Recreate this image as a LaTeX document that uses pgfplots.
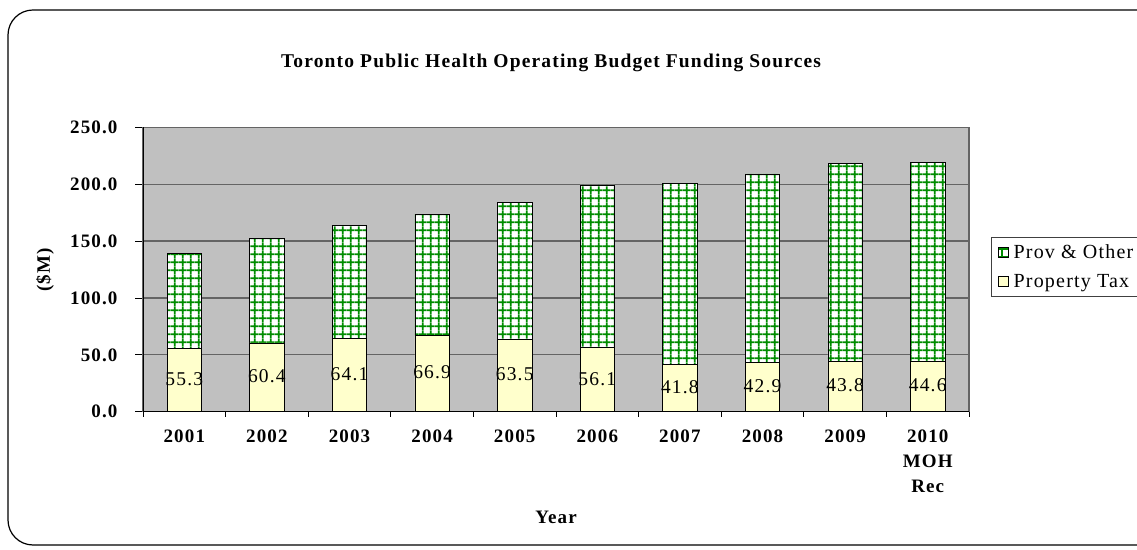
\documentclass[border=0pt]{standalone}
\usepackage{fontspec}
\setmainfont{Liberation Serif}[LetterSpace=6]
\usepackage{pgfplots}
\pgfplotsset{compat=1.18}
\usetikzlibrary{patterns}
\definecolor{taxc}{RGB}{255,255,204}
\definecolor{plotbg}{RGB}{192,192,192}
\definecolor{gridc}{RGB}{100,100,100}
\definecolor{provc}{RGB}{0,140,0}
\pgfdeclarepatternformonly{biggrid}{\pgfqpoint{0pt}{0pt}}{\pgfqpoint{7.8pt}{7.8pt}}{\pgfqpoint{7.8pt}{7.8pt}}{%
  \pgfsetlinewidth{1.7pt}%
  \pgfpathmoveto{\pgfqpoint{0pt}{3.9pt}}\pgfpathlineto{\pgfqpoint{7.8pt}{3.9pt}}%
  \pgfpathmoveto{\pgfqpoint{3.9pt}{0pt}}\pgfpathlineto{\pgfqpoint{3.9pt}{7.8pt}}%
  \pgfusepath{stroke}%
}
\pgfplotsset{
  mylegimg/.style={legend image code/.code={\draw[##1, line width=0.8pt] (0pt,-5pt) rectangle (10pt,5pt); \path (13pt,0pt);}},
  samegeom/.style={at={(143pt,137.3pt)}, anchor=south west,
    width=826pt, height=284.4pt, scale only axis,
    xmin=-0.5, xmax=9.5, ymin=0, ymax=250},
}
\begin{document}
\begin{tikzpicture}
\useasboundingbox (0pt,0pt) rectangle (1137pt,549pt);
\draw[line width=1.2pt, rounded corners=25pt] (8pt,4pt) rectangle (1170pt,539pt);
\begin{axis}[
  samegeom,
  ybar stacked, bar width=34.4pt,
  xtick={0,1,2,3,4,5,6,7,8,9},
  xticklabels={2001,2002,2003,2004,2005,2006,2007,2008,2009,{2010\\MOH\\Rec}},
  major x tick style={draw=none},
  minor xtick={-0.5,0.5,1.5,2.5,3.5,4.5,5.5,6.5,7.5,8.5,9.5},
  minor tick length=5pt,
  ytick={0,50,100,150,200,250},
  major tick length=8pt,
  tick align=outside, tick pos=left,
  tick style={black, line width=0.8pt},
  ymajorgrids, grid style={gridc, line width=1.3pt},
  axis line style={gridc, line width=1.2pt},
  axis background/.style={fill=plotbg},
  /pgf/number format/assume math mode=true,
  yticklabel style={/pgf/number format/fixed, /pgf/number format/fixed zerofill, /pgf/number format/precision=1, xshift=-14pt},
  tick label style={font=\bfseries\fontsize{19}{25}\selectfont},
  xticklabel style={align=center, yshift=-7pt},
  title={\bfseries Toronto Public Health Operating Budget Funding Sources},
  title style={at={(axis description cs:0.494,1.205)}, anchor=center, font=\fontsize{19.5}{22}\selectfont},
  xlabel={\bfseries Year},
  xlabel style={at={(axis description cs:0.5,-0.370)}, anchor=center, font=\fontsize{19}{22}\selectfont},
  ylabel={\bfseries (\$M)},
  ylabel style={at={(axis description cs:-0.1186,0.498)}, anchor=center, font=\fontsize{19}{22}\selectfont},
  legend style={at={(axis description cs:1.027,0.616)}, anchor=north west, draw=black!75, line width=1pt, fill=white,
     font=\fontsize{20}{23}\selectfont, row sep=10pt, inner xsep=6pt, inner ysep=6pt},
  legend cell align=left,
  reverse legend,
  mylegimg,
]
\addplot[fill=taxc, draw=black, line width=0.8pt]
 coordinates {(0,55.3) (1,60.4) (2,64.1) (3,66.9) (4,63.5) (5,56.1) (6,41.8) (7,42.9) (8,43.8) (9,44.6)};
\addlegendentry{Property Tax}
\addplot[fill=white, draw=black, line width=0.8pt, postaction={pattern=biggrid, pattern color=provc}]
 coordinates {(0,84.2) (1,91.7) (2,100.0) (3,106.8) (4,120.6) (5,143.2) (6,159.2) (7,166.1) (8,174.2) (9,174.6)};
\addlegendentry{Prov \& Other}
\draw[black, line width=1.2pt] (rel axis cs:0,1) -- (rel axis cs:0,0) -- (rel axis cs:1,0);
\end{axis}
% data labels of the Property Tax segments, centred in each segment
\begin{axis}[
  samegeom, hide axis,
  /pgf/number format/assume math mode=true,
]
\addplot[draw=none, mark=none, point meta=explicit,
  nodes near coords={\pgfmathprintnumber[fixed,fixed zerofill,precision=1]{\pgfplotspointmeta}},
  nodes near coords style={anchor=center, black, font=\fontsize{19.5}{22}\selectfont},
] coordinates {(0,28.6) [55.3] (1,31.2) [60.4] (2,33.0) [64.1] (3,34.4) [66.9] (4,32.7) [63.5]
               (5,29.0) [56.1] (6,21.9) [41.8] (7,22.4) [42.9] (8,22.9) [43.8] (9,23.3) [44.6]};
\end{axis}
\end{tikzpicture}
\end{document}
